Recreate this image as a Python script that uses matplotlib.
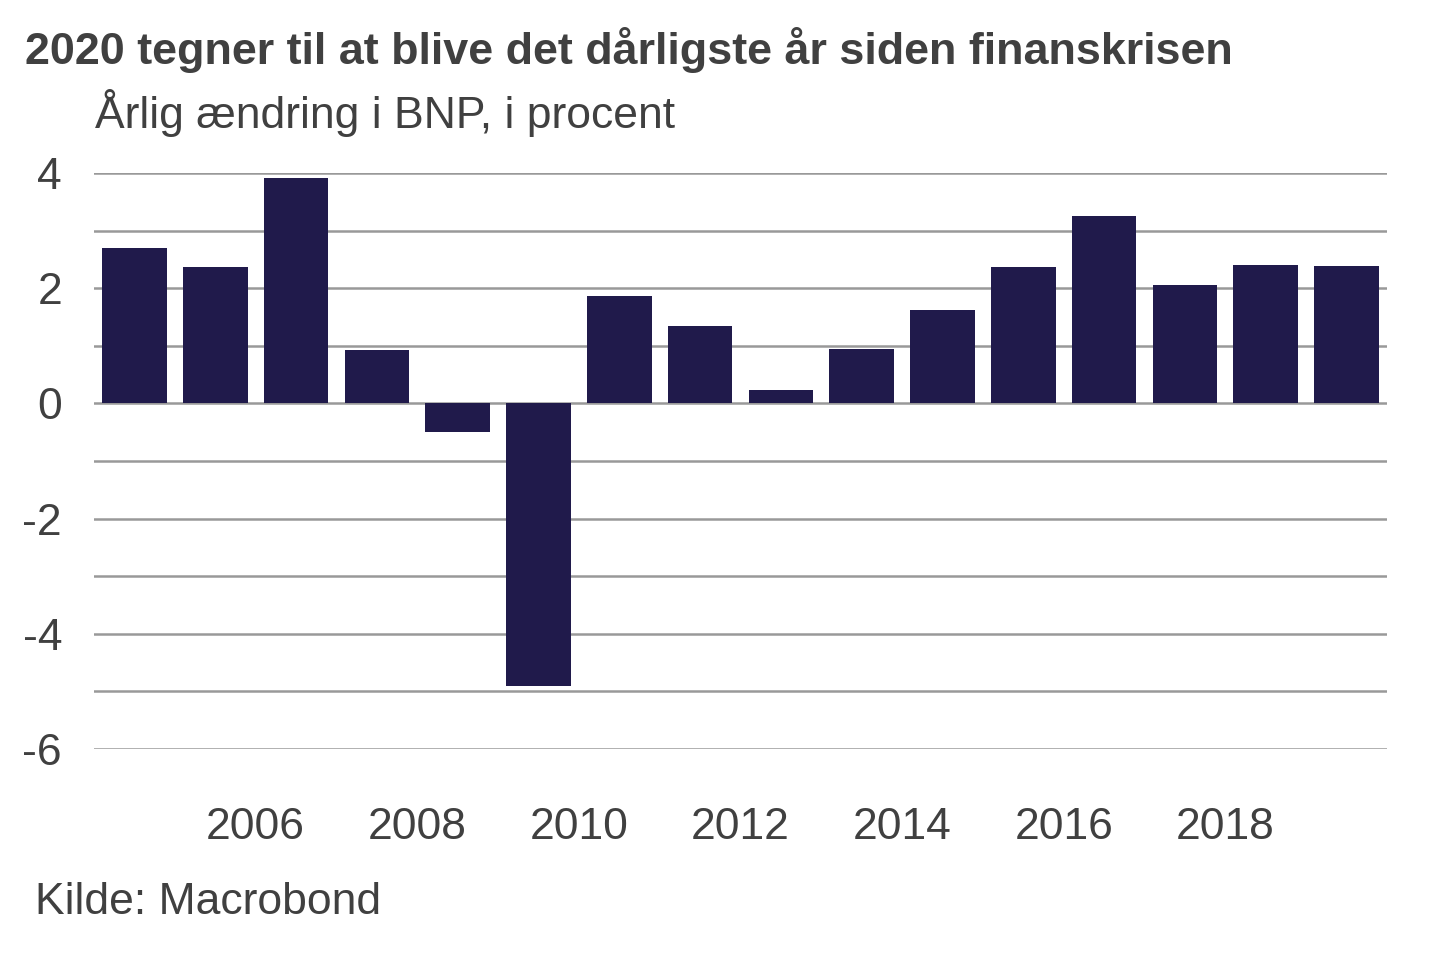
import numpy as np
import matplotlib.pyplot as plt

plt.rcParams['font.family'] = ['Liberation Sans', 'DejaVu Sans']
plt.rcParams['axes.unicode_minus'] = False

years = [2004, 2005, 2006, 2007, 2008, 2009, 2010, 2011, 2012, 2013,
         2014, 2015, 2016, 2017, 2018, 2019]
bnp = [2.69, 2.36, 3.92, 0.92, -0.49, -4.9, 1.87, 1.34, 0.24, 0.94,
       1.63, 2.36, 3.26, 2.05, 2.41, 2.38]
xticks = [2006, 2008, 2010, 2012, 2014, 2016, 2018]
yticks = [-6, -4, -2, 0, 2, 4]

txt = '#404040'
fig = plt.figure(figsize=(14.4, 9.6), dpi=100)
ax = fig.add_axes([0.0653, 0.2198, 0.8979, 0.6]) 

x = np.array(years) + 0.5
ax.bar(x, bnp, width=0.8, color='#201a4b', zorder=3)

ax.set_xlim(2004, 2020)
ax.set_ylim(-6, 4)
ax.set_yticks(np.arange(-6, 5, 1), minor=True)
ax.set_yticks(yticks)
ax.set_yticklabels([str(t) for t in yticks])
ax.set_xticks(xticks)
ax.set_xticklabels([str(t) for t in xticks])
ax.grid(axis='y', which='both', color='#999999', linewidth=1.8, zorder=1)
for s in ax.spines.values():
    s.set_visible(False)
ax.tick_params(axis='both', which='both', length=0, labelsize=32, colors=txt)
ax.tick_params(axis='y', pad=23)
ax.tick_params(axis='x', pad=42)

fig.text(25 / 1440, 1 - 50 / 960, '2020 tegner til at blive det dårligste år siden finanskrisen',
         fontsize=32.3, fontweight='bold', color=txt, va='center', ha='left')
fig.text(95 / 1440, 1 - 113 / 960, 'Årlig ændring i BNP, i procent',
         fontsize=32, color=txt, va='center', ha='left')
fig.text(35 / 1440, 1 - 902 / 960, 'Kilde: Macrobond',
         fontsize=32, color=txt, va='center', ha='left')

fig.savefig('out.png', dpi=100)
